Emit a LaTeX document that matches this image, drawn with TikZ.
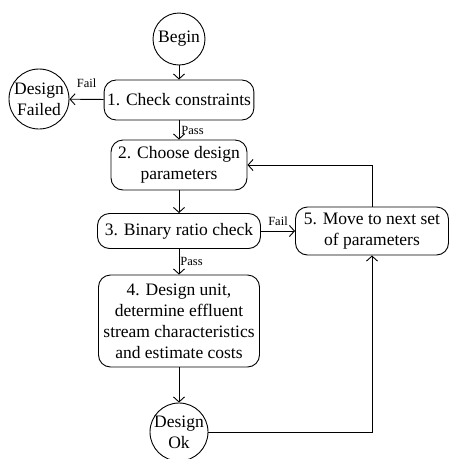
\documentclass[tikz,border=0pt]{standalone}
\usepackage{fontspec}
\setmainfont{Liberation Serif}
\usepackage{tikz}
\usetikzlibrary{calc, arrows.meta}

\tikzset{
  stepbox/.style = {draw, rectangle, rounded corners = 12, align = center,
    inner sep = 3, font = \fontsize{17.5}{21}\selectfont},
  endpt/.style = {draw, circle, inner sep = 0, align = center,
    font = \fontsize{17.5}{21}\selectfont},
  lbl/.style = {font = \fontsize{12.5}{14}\selectfont, inner sep = 2}
}

\begin{document}
\begin{tikzpicture}[x = 1pt, y = -1pt, line width = 0.9pt,
    >={Straight Barb[length = 5, width = 11]}]
\useasboundingbox (0, 0) rectangle (455, 459);

\node[endpt, minimum size = 52] (begin) at (179, 39) {Begin};
\node[stepbox, minimum width = 148, minimum height = 40] (check) at (179, 100) {1. Check constraints};
\node[endpt, minimum size = 60] (failed) at (39, 99) {Design\\Failed};
\node[stepbox, minimum width = 136, minimum height = 50] (choose) at (179, 165) {2. Choose design\\parameters};
\node[stepbox, minimum width = 163, minimum height = 35] (ratio) at (179, 231) {3. Binary ratio check};
\node[stepbox, minimum width = 153, minimum height = 48] (next) at (372, 231) {5. Move to next set\\of parameters};
\node[stepbox, minimum width = 161, minimum height = 92] (unit) at (179, 321) {4. Design unit,\\determine effluent\\stream characteristics\\and estimate costs};
\node[endpt, inner sep = -3, minimum size = 58] (ok) at (179, 432) {Design\\Ok};

\draw[->] (begin) -- (check);
\draw[->] (check) -- node[lbl, above = 9] {Fail} (failed);
\draw[->] (check) -- node[lbl, right] {Pass} (choose);
\draw[->] (choose) -- (ratio);
\draw[->] (ratio) -- node[lbl, above = 3] {Fail} (next);
\draw[->] (ratio) -- node[lbl, right = -1] {Pass} (unit);
\draw[->] (unit) -- (ok);
\draw[->] (ok) -| (next);
\draw[->] (next) |- (choose);
\end{tikzpicture}
\end{document}
